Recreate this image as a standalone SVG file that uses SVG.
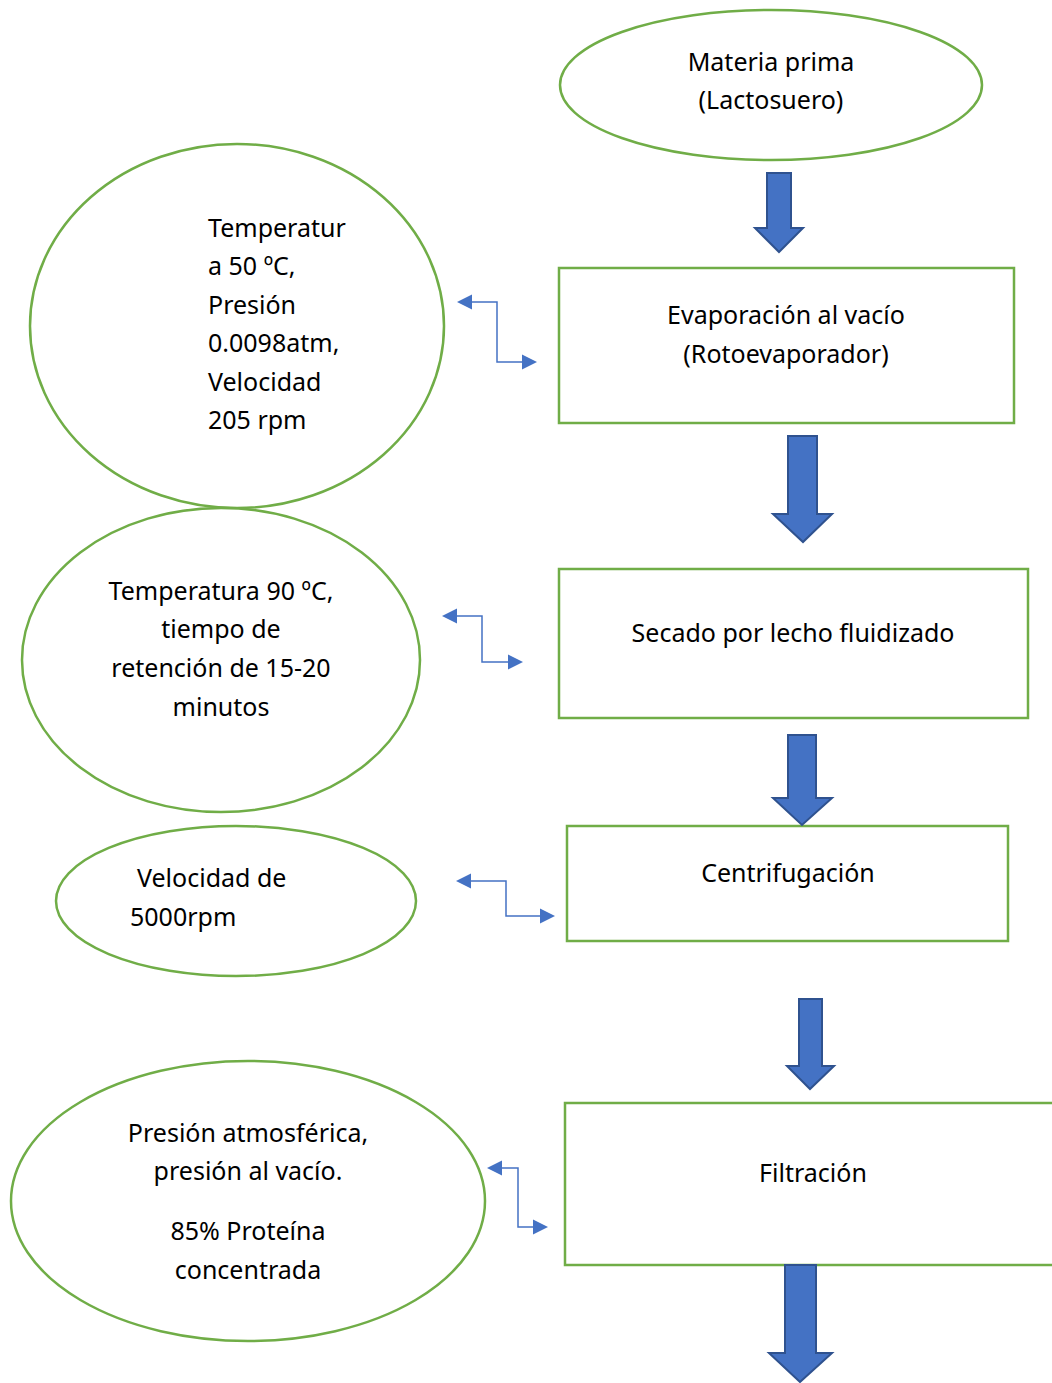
<svg xmlns="http://www.w3.org/2000/svg" width="1052" height="1383" viewBox="0 0 1052 1383">
  <defs>
    <style>
      .shape { fill: #ffffff; stroke: #70AD47; stroke-width: 2.5; }
      .blk { fill: #4472C4; stroke: #2F528F; stroke-width: 2; stroke-linejoin: miter; }
      .lnk { fill: none; stroke: #4472C4; stroke-width: 1.5; }
      .head { fill: #4472C4; stroke: none; }
      text { font-family: "Noto Sans", "Open Sans", sans-serif; font-size: 25px; fill: #000000; }
      .c { text-anchor: middle; }
    </style>
  </defs>
  <rect x="0" y="0" width="1052" height="1383" fill="#ffffff"/>

  <!-- process steps -->
  <g id="materia-prima">
    <ellipse class="shape" cx="771" cy="85" rx="211" ry="75"/>
    <text class="c" x="771" y="71">Materia prima</text>
    <text class="c" x="771" y="109">(Lactosuero)</text>
  </g>
  <g id="evaporacion">
    <rect class="shape" x="559" y="268" width="455" height="155"/>
    <text class="c" x="786" y="324">Evaporación al vacío</text>
    <text class="c" x="786" y="363">(Rotoevaporador)</text>
  </g>
  <g id="secado">
    <rect class="shape" x="559" y="569" width="469" height="149"/>
    <text class="c" x="793" y="642">Secado por lecho fluidizado</text>
  </g>
  <g id="centrifugacion">
    <rect class="shape" x="567" y="826" width="441" height="115"/>
    <text class="c" x="788" y="882">Centrifugación</text>
  </g>
  <g id="filtracion">
    <rect class="shape" x="565" y="1103" width="500" height="162"/>
    <text class="c" x="813" y="1182">Filtración</text>
  </g>

  <!-- operating conditions -->
  <g id="cond-evaporacion">
    <ellipse class="shape" cx="237" cy="326" rx="207" ry="182"/>
    <text x="208" y="237">Temperatur</text>
    <text x="208" y="275">a 50 ºC,</text>
    <text x="208" y="314">Presión</text>
    <text x="208" y="352">0.0098atm,</text>
    <text x="208" y="391">Velocidad</text>
    <text x="208" y="429">205 rpm</text>
  </g>
  <g id="cond-secado">
    <ellipse class="shape" cx="221" cy="660" rx="199" ry="152"/>
    <text class="c" x="221" y="600">Temperatura 90 ºC,</text>
    <text class="c" x="221" y="638">tiempo de</text>
    <text class="c" x="221" y="677">retención de 15-20</text>
    <text class="c" x="221" y="716">minutos</text>
  </g>
  <g id="cond-centrifugacion">
    <ellipse class="shape" cx="236" cy="901" rx="180" ry="75"/>
    <text x="137" y="887">Velocidad de</text>
    <text x="130" y="926">5000rpm</text>
  </g>
  <g id="cond-filtracion">
    <ellipse class="shape" cx="248" cy="1201" rx="237" ry="140"/>
    <text class="c" x="248" y="1142">Presión atmosférica,</text>
    <text class="c" x="248" y="1180">presión al vacío.</text>
    <text class="c" x="248" y="1240">85% Proteína</text>
    <text class="c" x="248" y="1279">concentrada</text>
  </g>

  <!-- connectors -->
  <g id="connectors">
    <!-- block arrows between steps -->
    <path class="blk" d="M767,173 H791 V228 H803 L779,252 L755,228 H767 Z"/>
    <path class="blk" d="M788,436 H817 V514 H832 L803,542 L773,514 H788 Z"/>
    <path class="blk" d="M788,735 H816 V798 H832 L802,825 L773,798 H788 Z"/>
    <path class="blk" d="M799,999 H822 V1066 H834 L810,1089 L787,1066 H799 Z"/>
    <path class="blk" d="M785,1265 H816 V1353 H832 L800,1382 L769,1353 H785 Z"/>

    <!-- two-way elbow links between conditions and steps -->
    <path class="lnk" d="M470,302 H497 V362 H524"/>
    <path class="head" d="M457,302 L472,294.5 V309.5 Z"/>
    <path class="head" d="M537,362 L522,354.5 V369.5 Z"/>

    <path class="lnk" d="M455,616 H482 V662 H510"/>
    <path class="head" d="M442,616 L457,608.5 V623.5 Z"/>
    <path class="head" d="M523,662 L508,654.5 V669.5 Z"/>

    <path class="lnk" d="M469,881 H506 V916 H542"/>
    <path class="head" d="M456,881 L471,873.5 V888.5 Z"/>
    <path class="head" d="M555,916 L540,908.5 V923.5 Z"/>

    <path class="lnk" d="M500,1168 H518 V1227 H535"/>
    <path class="head" d="M487,1168 L502,1160.5 V1175.5 Z"/>
    <path class="head" d="M548,1227 L533,1219.5 V1234.5 Z"/>
  </g>
</svg>
